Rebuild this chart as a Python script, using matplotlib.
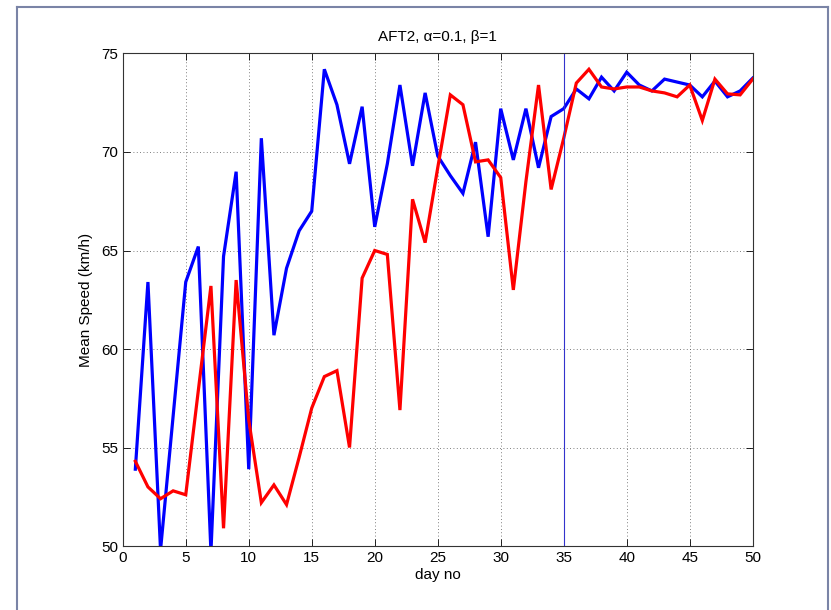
import matplotlib
matplotlib.use("Agg")
import matplotlib.pyplot as plt
from matplotlib.lines import Line2D

days = list(range(1, 51))
blue_speed = [53.9, 63.4, 49.8, 56.6, 63.4, 65.2, 49.7, 64.7, 69.0, 53.9,
              70.7, 60.7, 64.1, 66.0, 67.0, 74.2, 72.4, 69.4, 72.3, 66.2,
              69.4, 73.4, 69.3, 73.0, 69.8, 68.8, 67.9, 70.5, 65.7, 72.2,
              69.6, 72.2, 69.2, 71.8, 72.2, 73.2, 72.7, 73.8, 73.1, 74.05,
              73.4, 73.1, 73.7, 73.55, 73.4, 72.8, 73.6, 72.8, 73.1, 73.75]
red_speed = [54.3, 53.0, 52.4, 52.8, 52.6, 57.9, 63.2, 50.9, 63.5, 56.4,
             52.2, 53.1, 52.1, 54.5, 57.0, 58.6, 58.9, 55.0, 63.6, 65.0,
             64.8, 56.9, 67.6, 65.4, 69.2, 72.9, 72.4, 69.5, 69.6, 68.7,
             63.0, 68.5, 73.4, 68.1, 70.7, 73.5, 74.2, 73.3, 73.2, 73.3,
             73.3, 73.1, 73.0, 72.8, 73.4, 71.6, 73.7, 72.95, 72.9, 73.7]
marker_day = 35
x_ticks = list(range(0, 51, 5))
y_ticks = list(range(50, 76, 5))

plt.rcParams['font.family'] = ['Liberation Sans Narrow', 'Liberation Sans', 'DejaVu Sans']

fig = plt.figure(figsize=(8.31, 6.10), dpi=100)
ax = fig.add_axes([0.1477, 0.1049, 0.7581, 0.8074])

ax.plot(days, blue_speed, color='#0000ff', lw=2.3, solid_joinstyle='miter')
ax.plot(days, red_speed, color='#ff0000', lw=2.3, solid_joinstyle='miter')
ax.axvline(marker_day, color='#3333cc', lw=0.8)

ax.set_xlim(0, 50)
ax.set_ylim(50, 75)
ax.set_xticks(x_ticks)
ax.set_yticks(y_ticks)
ax.grid(True, linestyle=(0, (1, 3)), color='#555555', lw=0.6)
ax.tick_params(direction='in', top=True, right=True, length=5, labelsize=11, width=0.6)
for s in ax.spines.values():
    s.set_color('#333333')
    s.set_linewidth(0.8)

ax.set_xlabel('day no', fontsize=11, labelpad=2)
ax.set_ylabel('Mean Speed (km/h)', fontsize=11, labelpad=6)
ax.set_title('AFT2, α=0.1, β=1', fontsize=11, pad=9)

# outer frame
W, H = 831, 610
fc = '#7a84a6'
fig.add_artist(Line2D([16.5 / W, 16.5 / W], [0, 1 - 7 / H], transform=fig.transFigure, color=fc, lw=1.5))
fig.add_artist(Line2D([16.5 / W, 827.5 / W], [1 - 7 / H, 1 - 7 / H], transform=fig.transFigure, color=fc, lw=1.5))
fig.add_artist(Line2D([827.5 / W, 827.5 / W], [0, 1 - 7 / H], transform=fig.transFigure, color=fc, lw=1.5))

fig.savefig('out.png', dpi=100)
